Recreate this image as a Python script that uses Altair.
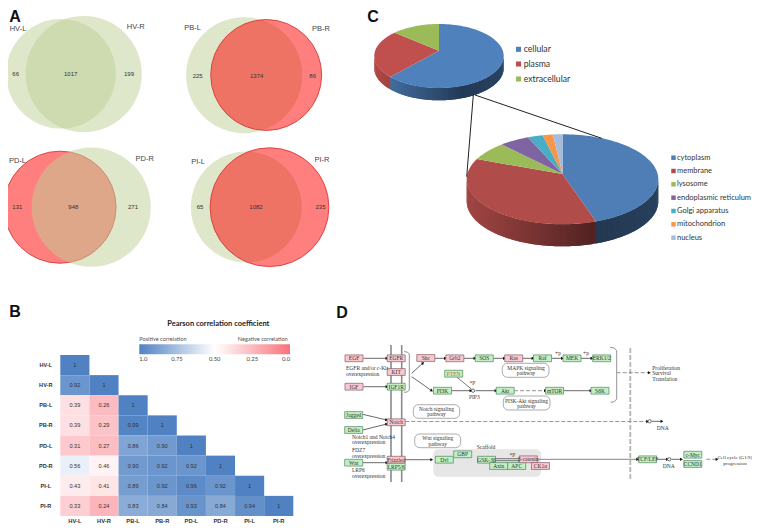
import math
import numpy as np
import pandas as pd
import altair as alt

# ---------------- values ----------------
VENN_NAMES = [("HV-L", "HV-R"), ("PB-L", "PB-R"), ("PD-L", "PD-R"), ("PI-L", "PI-R")]
VENN_LEFT = [66, 225, 131, 65]
VENN_BOTH = [1017, 1374, 948, 1082]
VENN_RIGHT = [199, 86, 271, 235]

SAMPLES = ["HV-L", "HV-R", "PB-L", "PB-R", "PD-L", "PD-R", "PI-L", "PI-R"]
CORR = [
    [1],
    [0.92, 1],
    [0.39, 0.26, 1],
    [0.39, 0.29, 0.99, 1],
    [0.31, 0.27, 0.86, 0.90, 1],
    [0.56, 0.46, 0.90, 0.92, 0.92, 1],
    [0.43, 0.41, 0.89, 0.92, 0.96, 0.92, 1],
    [0.33, 0.24, 0.83, 0.84, 0.93, 0.84, 0.94, 1],
]

PIE1_NAMES = ["cellular", "plasma", "extracellular"]
PIE1_VALUES = [63.6, 24.4, 12.0]
PIE2_NAMES = ["cytoplasm", "membrane", "lysosome", "endoplasmic reticulum",
              "Golgi apparatus", "mitochondrion", "nucleus"]
PIE2_VALUES = [44.3, 38.1, 6.7, 5.0, 2.6, 1.7, 1.6]

# ---------------- styles and layout ----------------
PIE1_COLORS = ["#4f81bd", "#c0504d", "#9bbb59"]
PIE2_COLORS = ["#4f7db5", "#b04c4a", "#9bbb59", "#8064a2", "#4bacc6", "#f79646", "#a5bcdc"]
GREEN = "#becf96"
RED = "#ff0000"
SANS = "Liberation Sans"
SERIF = "Liberation Serif"
LATO = "Lato"

PX = alt.Scale(domain=[8, 752], range=[0, 744], zero=False, nice=False)
PY = alt.Scale(domain=[8, 524], range=[0, 516], zero=False, nice=False)
X = lambda f="x": alt.X(f"{f}:Q", scale=PX, axis=None)
Y = lambda f="y": alt.Y(f"{f}:Q", scale=PY, axis=None)


def texts(rows, size, font=SANS, color="#333333", weight="normal", align="center"):
    df = pd.DataFrame(rows, columns=["x", "y", "t"])
    return alt.Chart(df).mark_text(fontSize=size, font=font, color=color, fontWeight=weight,
                                   align=align, baseline="middle").encode(x=X(), y=Y(), text="t:N")


def polylines(paths, color="#333333", width=0.8, dash=None):
    rows = [{"id": n, "i": i, "x": p[0], "y": p[1]} for n, path in enumerate(paths) for i, p in enumerate(path)]
    kw = dict(color=color, strokeWidth=width, interpolate="linear")
    if dash:
        kw["strokeDash"] = dash
    return alt.Chart(pd.DataFrame(rows)).mark_line(**kw).encode(
        x=X(), y=Y(), detail="id:N", order="i:Q")


# ---------------- A: Venn diagrams ----------------
VENN_CENTERS = [((61, 73.8), (83.7, 74)), ((244.2, 75.2), (266.2, 75)),
                ((60, 207.2), (91.2, 207.2)), ((246.3, 207), (269.5, 207.2))]
VENN_K = [11.1, 8.43, 11.65, 10.72]
VENN_FILLS = [(GREEN, GREEN), (GREEN, RED), (RED, GREEN), (GREEN, RED)]
circ = []
for i in range(4):
    for side in range(2):
        total = VENN_BOTH[i] + (VENN_LEFT[i] if side == 0 else VENN_RIGHT[i])
        fill = VENN_FILLS[i][side]
        circ.append({"x": VENN_CENTERS[i][side][0], "y": VENN_CENTERS[i][side][1],
                     "s": VENN_K[i] * total, "f": fill,
                     "c": "#d93a3a" if fill == RED else "transparent"})
venn = alt.Chart(pd.DataFrame(circ)).mark_circle(opacity=1, fillOpacity=0.5, strokeWidth=0.9).encode(
    x=X(), y=Y(), size=alt.Size("s:Q", scale=None),
    fill=alt.Fill("f:N", scale=None), stroke=alt.Stroke("c:N", scale=None))

VENN_NAME_POS = [((18, 29.3), (135.7, 27)), ((192.7, 28), (321, 29)),
                 ((17.5, 161.3), (144.7, 159)), ((198, 161.7), (322, 159.5))]
VENN_NUM_POS = [((15.7, 74), (70.7, 74), (129, 74)), ((197.7, 75.7), (256.7, 75.7), (312.7, 75.7)),
                ((17.3, 207.3), (73.3, 207.3), (133, 207.3)), ((200, 207.3), (256, 207.3), (320.5, 207.3))]
venn_names = []
venn_nums = []
for i in range(4):
    for side in range(2):
        venn_names.append((*VENN_NAME_POS[i][side], VENN_NAMES[i][side]))
    for pos, v in zip(VENN_NUM_POS[i], (VENN_LEFT[i], VENN_BOTH[i], VENN_RIGHT[i])):
        venn_nums.append((*pos, str(v)))

# ---------------- C: 3-D pies ----------------


def shade(hex_color, f):
    r, g, b = (int(hex_color[k:k + 2], 16) for k in (1, 3, 5))
    return "#%02x%02x%02x" % (int(r * f), int(g * f), int(b * f))


def pie_features(values, colors, cx, cy, rx, ry, apex_y, depth):
    feats = []
    total = sum(values)
    edges = np.cumsum([0] + list(values)) / total * 360.0
    def rim(t):
        a = math.radians(t)
        return (cx + rx * math.sin(a), cy - ry * math.cos(a))
    # side wall: strips shaded from left to right, each overlapping the next
    for k, col in enumerate(colors):
        t0, t1 = max(edges[k], 90.0), min(edges[k + 1], 270.0)
        t = t0
        while t < t1 - 1e-6:
            t2 = min(t + 4.0, t1)
            mid = min(t + 2.0, t1)
            ts = np.linspace(t, t2, 4)
            top = [list(rim(a)) for a in ts]
            bottom = [[p[0], p[1] + depth] for p in reversed(top)]
            u = (rim(mid)[0] - cx) / rx
            f = float(np.interp(u, [-1, 0.35, 1], [0.92, 0.45, 0.52]))
            ring = top + bottom + [top[0]]
            feats.append({"type": "Feature", "properties": {"c": shade(col, f)},
                          "geometry": {"type": "Polygon", "coordinates": [ring]}})
            t = mid
    # top face
    for k, col in enumerate(colors):
        ts = np.linspace(edges[k], edges[k + 1], max(3, int((edges[k + 1] - edges[k]) / 2)))
        ring = [[cx, apex_y]] + [list(rim(t)) for t in ts] + [[cx, apex_y]]
        feats.append({"type": "Feature", "properties": {"c": col},
                      "geometry": {"type": "Polygon", "coordinates": [ring]}})
    return feats


features = (pie_features(PIE1_VALUES, PIE1_COLORS, 439, 56, 64.7, 32, 50.7, 12.3)
            + pie_features(PIE2_VALUES, PIE2_COLORS, 562.5, 179.3, 95.8, 45, 174, 22))
pies = alt.Chart(alt.Data(values={"type": "FeatureCollection", "features": features},
                          format=alt.DataFormat(property="features", type="json"))
                 ).mark_geoshape(strokeWidth=0, opacity=1, fillOpacity=1).encode(
    fill=alt.Fill("properties.c:N", scale=None)
).project(type="identity", scale=1, translate=[-8, -8])

connectors = polylines([[(473.3, 95), (466.7, 176.7)], [(475, 95), (601.7, 138.3)]], "#222222", 1.0)

LEG1_Y = [49.3, 64, 79]
LEG2_Y = [157.7, 171, 184.3, 197.7, 211, 224.3, 237.7]
swatch_df = pd.DataFrame(
    [{"x": 518.5, "y": y, "c": c, "s": 26} for y, c in zip(LEG1_Y, PIE1_COLORS)]
    + [{"x": 673.5, "y": y, "c": c, "s": 20} for y, c in zip(LEG2_Y, PIE2_COLORS)])
swatches = alt.Chart(swatch_df).mark_square(opacity=1).encode(
    x=X(), y=Y(), size=alt.Size("s:Q", scale=None), fill=alt.Fill("c:N", scale=None))

# ---------------- B: heat map ----------------
rows = [{"r": SAMPLES[i], "c": SAMPLES[j], "v": v, "lab": "1" if v == 1 else f"{v:.2f}"}
        for i, line in enumerate(CORR) for j, v in enumerate(line)]
heat_df = pd.DataFrame(rows)
HX = alt.Scale(type="band", domain=SAMPLES, range=[52.3, 285.3], paddingInner=0, paddingOuter=0)
HY = alt.Scale(type="band", domain=SAMPLES, range=[347, 508], paddingInner=0, paddingOuter=0)
heat_cells = alt.Chart(heat_df).mark_rect(strokeWidth=0).encode(
    x=alt.X("c:N", scale=HX, title=None,
            axis=alt.Axis(orient="bottom", offset=-3.5, domain=False, ticks=False, labelAngle=0,
                          labelFont=SANS, labelFontSize=5.8, labelFontWeight="bold", labelColor="#333333",
                          labelBaseline="middle", labelPadding=0, grid=False)),
    y=alt.Y("r:N", scale=HY, title=None,
            axis=alt.Axis(orient="left", offset=-37.3, domain=False, ticks=False,
                          labelFont=SANS, labelFontSize=5.6, labelFontWeight="bold", labelColor="#333333",
                          labelAlign="center", labelPadding=0, grid=False)),
    color=alt.Color("v:Q", scale=alt.Scale(domain=[1, 0.5, 0], range=["#4f81c3", "#ffffff", "#f9727c"],
                                           interpolate="rgb"),
                    legend=alt.Legend(orient="none", legendX=131.3, legendY=336.3, direction="horizontal",
                                      title=None, gradientLength=150.7, gradientThickness=10,
                                      values=[1, 0.75, 0.5, 0.25, 0],
                                      labelExpr="datum.value == 1 ? '1.0' : datum.value == 0 ? '0.0' : format(datum.value, '.2f')",
                                      labelFont=LATO, labelFontSize=5.8, labelColor="#444444", labelPadding=3,
                                      gradientStrokeWidth=0, tickCount=5)),
)
heat_text = alt.Chart(heat_df).mark_text(font=SANS, fontSize=5.6, color="#333333").encode(
    x=alt.X("c:N", scale=HX, axis=None), y=alt.Y("r:N", scale=HY, axis=None), text="lab:N")

# ---------------- D: pathway ----------------
P, G = ("#f9c9d2", "#8a5a62"), ("#c2efc4", "#4b8a5c")
NODES = [
    ("EGF", 354, 358.3, P), ("EGFR", 396.2, 358.3, P), ("KIT", 396.2, 372, P), ("IGF", 354, 386.7, P),
    ("IGF1R", 396.2, 386.7, G), ("Shc", 425.8, 358, P), ("Grb2", 454.8, 358.3, P), ("SOS", 484.3, 358.3, G),
    ("Ras", 513.7, 358.3, P), ("Raf", 542.5, 358.3, G), ("MEK", 572, 358.3, G), ("ERK1/2", 601.7, 358.3, G),
    ("PTEN", 453.7, 373.7, G), ("PI3K", 442.5, 390.7, G), ("Akt", 505.2, 390.7, G), ("mTOR", 554.5, 390.7, G),
    ("S6K", 600, 390.7, G), ("Jagged", 353.7, 415, G), ("Delta", 353.7, 430, G), ("Notch", 396.2, 422.3, P),
    ("Wnt", 353.7, 462.7, G), ("Frizzled", 396.2, 459.7, P), ("LRP5/6", 396.2, 466.7, G),
    ("Dvl", 444.3, 459.7, G), ("GBP", 462.7, 454.3, G), ("GSK-3\u03b2", 486.5, 459.7, G),
    ("Axin", 498.7, 466, G), ("APC", 516.7, 466, G), ("\u03b2-catenin", 528.3, 459.3, P),
    ("CK1\u03b1", 540.5, 466, P), ("TCF/LEF", 647.7, 459.3, G), ("c-Myc", 692.8, 454.7, G), ("CCND1", 692.8, 464, G),
]
NODE_W, NODE_H = 18, 6.8
node_df = pd.DataFrame([{"t": n, "x": x, "y": y, "x0": x - NODE_W / 2, "x1": x + NODE_W / 2,
                         "y0": y - NODE_H / 2, "y1": y + NODE_H / 2, "f": s[0], "s": s[1],
                         "tc": "#c9701a" if n == "PTEN" else "#333333"} for n, x, y, s in NODES])

scaffold = alt.Chart(pd.DataFrame([{"x0": 433.3, "x1": 541, "y0": 449.3, "y1": 476.7}])).mark_rect(
    fill="#e6e6e6", cornerRadius=5).encode(x=X("x0"), x2="x1:Q", y=Y("y0"), y2="y1:Q")
BOXES = [(502.3, 549, 363.3, 377.3), (503.3, 550, 396, 410), (413.3, 459.7, 404.7, 418.3), (414.7, 460.7, 434, 447.7)]
boxes = alt.Chart(pd.DataFrame(BOXES, columns=["x0", "x1", "y0", "y1"])).mark_rect(
    fill="#ffffff", stroke="#888888", strokeWidth=0.7, cornerRadius=5).encode(
    x=X("x0"), x2="x1:Q", y=Y("y0"), y2="y1:Q")
nodes = alt.Chart(node_df).mark_rect(strokeWidth=0.7).encode(
    x=X("x0"), x2="x1:Q", y=Y("y0"), y2="y1:Q",
    fill=alt.Fill("f:N", scale=None), stroke=alt.Stroke("s:N", scale=None))
node_text = alt.Chart(node_df).mark_text(font=SERIF, fontSize=5.5).encode(
    x=X(), y=Y(), text="t:N", color=alt.Color("tc:N", scale=None))

membrane = polylines([[(391, 345), (391, 482)], [(401.7, 345), (401.7, 482)]], "#8a8a8a", 1.6)
divider = polylines([[(630.3, 348), (630.3, 480)]], "#b5b5b5", 1.8, [5, 2])
brackets = polylines([
    [(404, 351.7), (407.3, 352), (409.3, 354), (409.3, 390), (407.3, 392), (404, 392.3)],
    [(610, 347.3), (614.3, 348), (616.7, 350.7), (616.7, 399), (614.3, 401.7), (610.7, 402.3)],
], "#777777", 0.8)

SOLID_ARROWS = [
    ((363.5, 358.3), (387, 358.3)), ((363.5, 386.7), (387, 386.7)), ((411.7, 373.3), (423, 363)),
    ((411.7, 376.7), (431.7, 390.7)), ((435, 358.3), (445.5, 358.3)), ((464, 358.3), (475, 358.3)),
    ((493.5, 358.3), (504.5, 358.3)), ((523, 358.3), (533, 358.3)), ((552, 358.3), (562.5, 358.3)),
    ((581, 358.3), (592, 358.3)), ((452, 390.7), (471, 390.7)), ((475.5, 390.7), (496, 390.7)),
    ((564, 390.7), (591, 390.7)), ((362.7, 414.3), (386.7, 420)), ((362.7, 430), (386.7, 424)),
    ((363, 462.7), (387, 462.7)), ((405, 459.7), (431.7, 459.7)), ((652, 421.3), (662, 421.3)),
    ((657, 459.3), (667.5, 459.3)), ((671.5, 459.3), (681.5, 459.3)),
]
GREY_ARROWS = [((537.5, 459.3), (637.7, 459.3))]
DASH_ARROWS = [((514, 390.7), (545.5, 390.7)), ((405.3, 421.5), (647.7, 421.5)),
               ((616.7, 372.7), (649.3, 372.7)), ((706.3, 459.3), (717, 459.3))]
PLAIN = [[(456.7, 377), (471.7, 389.3)], [(496, 458.7), (519, 458.7)], [(496, 460.7), (519, 460.7)]]

arrow_rows = []
for a, b in SOLID_ARROWS + GREY_ARROWS + DASH_ARROWS:
    arrow_rows.append({"x": b[0], "y": b[1],
                       "a": math.degrees(math.atan2(b[0] - a[0], -(b[1] - a[1]))) % 360})
heads = alt.Chart(pd.DataFrame(arrow_rows)).mark_point(
    shape="triangle-up", filled=True, color="#111111", opacity=1, size=11).encode(
    x=X(), y=Y(), angle=alt.Angle("a:Q", scale=None))
CIRCLES = [(473, 390.7), (649.7, 421.3), (669.3, 459.3)]
rings = alt.Chart(pd.DataFrame(CIRCLES, columns=["x", "y"])).mark_point(
    shape="circle", fill="#ffffff", stroke="#333333", strokeWidth=0.7, opacity=1, size=11).encode(x=X(), y=Y())

# ---------------- assemble ----------------
layers = [
    venn,
    texts(venn_names, 7.5, color="#444444"),
    texts(venn_nums, 6, color="#333333"),
    pies,
    connectors,
    swatches,
    texts([(523.7, y, n) for y, n in zip(LEG1_Y, PIE1_NAMES)], 8.7, LATO, "#333333", align="left"),
    texts([(677, y, n) for y, n in zip(LEG2_Y, PIE2_NAMES)], 7.5, LATO, "#333333", align="left"),
    heat_cells,
    heat_text,
    texts([(218.3, 324.3, "Pearson correlation coefficient")], 7.5, LATO, "#222222", "bold"),
    texts([(139.3, 338.7, "Positive correlation")], 5.6, LATO, "#555555", align="left"),
    texts([(287.7, 338.7, "Negative correlation")], 5.6, LATO, "#555555", align="right"),
    scaffold,
    boxes,
    membrane,
    divider,
    brackets,
    polylines(PLAIN, "#444444", 0.7),
    polylines([list(e) for e in SOLID_ARROWS], "#444444", 0.8),
    polylines([list(e) for e in GREY_ARROWS], "#888888", 1.0),
    polylines([list(e) for e in DASH_ARROWS], "#8a8a8a", 0.9, [4, 2]),
    heads,
    rings,
    nodes,
    node_text,
    texts([(526, 367.5, "MAPK signaling"), (526, 372.7, "pathway"), (526.5, 400.5, "PI3K-Akt signaling"),
           (526.5, 405.7, "pathway"), (436.5, 409, "Notch signaling"), (436.5, 414.2, "pathway"),
           (437.7, 438.3, "Wnt signaling"), (437.7, 443.5, "pathway"), (474.3, 397, "PIP3"),
           (472.3, 382.7, "*P"), (486, 446.7, "Scaffold"), (512.3, 455, "*P"), (558, 353.3, "+p"),
           (586, 353.3, "+p"), (662.7, 428, "DNA"), (668.7, 466.3, "DNA")], 5.5, SERIF, "#333333"),
    texts([(735, 456.8, "Cell cycle (G1/S)"), (735, 462.8, "progression")], 5, SERIF, "#333333"),
    texts([(346, 368.2, "EGFR and/or c-Kit"), (346, 373.8, "overexpression"),
           (352, 436.8, "Notch1 and Notch4"), (352, 442.4, "overexpression"),
           (352, 450.2, "FDZ7"), (352, 455.8, "overexpression"),
           (352, 470.2, "LRP6"), (352, 475.8, "overexpression"),
           (652.3, 367.5, "Proliferation"), (652.3, 373.2, "Survival"), (652.3, 379, "Translation")],
          5.5, SERIF, "#333333", align="left"),
    texts([(15, 17, "A"), (15, 312, "B"), (373, 17, "C"), (342, 313, "D")], 16, SANS, "#111111", "bold"),
]

chart = alt.layer(*layers).resolve_scale(x="independent", y="independent").properties(
    width=744, height=516, padding=0, autosize=alt.AutoSizeParams(type="none"), background="#ffffff"
).configure_view(stroke=None)

chart.save("out.html", embed_options={"renderer": "svg", "actions": False})
